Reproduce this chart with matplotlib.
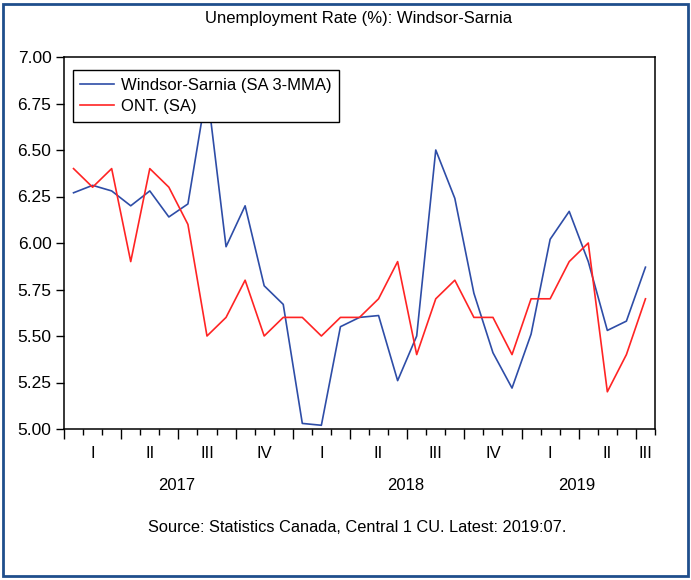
import matplotlib
matplotlib.use('Agg')
import matplotlib.pyplot as plt
from matplotlib.patches import Rectangle
import numpy as np

# Monthly data, Jan 2017 .. Jul 2019
windsor = [6.27, 6.31, 6.28, 6.20, 6.28, 6.14, 6.21, 6.83, 5.98, 6.20, 5.77, 5.67,
           5.03, 5.02, 5.55, 5.60, 5.61, 5.26, 5.50, 6.50, 6.24, 5.73, 5.41, 5.22,
           5.51, 6.02, 6.17, 5.90, 5.53, 5.58, 5.87]
ontario = [6.4, 6.3, 6.4, 5.9, 6.4, 6.3, 6.1, 5.5, 5.6, 5.8, 5.5, 5.6,
           5.6, 5.5, 5.6, 5.6, 5.7, 5.9, 5.4, 5.7, 5.8, 5.6, 5.6, 5.4,
           5.7, 5.7, 5.9, 6.0, 5.2, 5.4, 5.7]
quarter_labels = ['I', 'II', 'III', 'IV', 'I', 'II', 'III', 'IV', 'I', 'II', 'III']
quarter_centers = [1.5, 4.5, 7.5, 10.5, 13.5, 16.5, 19.5, 22.5, 25.5, 28.5, 30.5]
years = ['2017', '2018', '2019']
year_centers = [5.9, 17.9, 26.9]
y_ticks = [5.00, 5.25, 5.50, 5.75, 6.00, 6.25, 6.50, 6.75, 7.00]

plt.rcParams['font.family'] = ['Liberation Sans', 'DejaVu Sans']

fig = plt.figure(figsize=(6.91, 5.80), dpi=100)
ax = fig.add_axes([64 / 691, 1 - 429 / 580, (655 - 64) / 691, (429 - 57) / 580])

x = np.arange(len(windsor)) + 0.5
ax.plot(x, windsor, color='#2E4DA7', linewidth=1.2, label='Windsor-Sarnia (SA 3-MMA)')
ax.plot(x, ontario, color='#FF2424', linewidth=1.2, label='ONT. (SA)')

ax.set_xlim(0, len(windsor))
ax.set_ylim(5.0, 7.0)
ax.set_yticks(y_ticks)
ax.set_yticklabels(['%.2f' % v for v in y_ticks], fontsize=12.5)
ax.tick_params(axis='y', direction='out', length=6, width=1, pad=3)

ax.set_xticks(np.arange(0, len(windsor) + 1, 3))
ax.set_xticks(np.arange(0, len(windsor) + 1), minor=True)
ax.set_xticklabels([])
ax.tick_params(axis='x', which='major', direction='out', length=7, width=1)
ax.tick_params(axis='x', which='minor', direction='out', length=4, width=1)

for s in ax.spines.values():
    s.set_linewidth(1.1)

trans = ax.get_xaxis_transform()
for lab, c in zip(quarter_labels, quarter_centers):
    ax.text(c, -0.065, lab, transform=trans, ha='center', va='center', fontsize=12)
for lab, c in zip(years, year_centers):
    ax.text(c, -0.152, lab, transform=trans, ha='center', va='center', fontsize=12)

leg = ax.legend(loc='upper left', bbox_to_anchor=(0.015, 0.965), fontsize=12,
                frameon=True, fancybox=False, edgecolor='black', framealpha=1,
                handlelength=2.0, borderpad=0.45, labelspacing=0.4,
                handletextpad=0.45, borderaxespad=0)
leg.get_frame().set_linewidth(1.0)

fig.text(359 / 691, 1 - 18 / 580, 'Unemployment Rate (%): Windsor-Sarnia',
         ha='center', va='center', fontsize=12)
fig.text(357 / 691, 1 - 527 / 580, 'Source: Statistics Canada, Central 1 CU. Latest: 2019:07.',
         ha='center', va='center', fontsize=11.8)

fig.patches.append(Rectangle((3 / 691, 4 / 580), 685 / 691, 572 / 580,
                             transform=fig.transFigure, fill=False,
                             edgecolor='#1F4E8C', linewidth=2))

plt.savefig('out.png', dpi=100)
plt.close()
